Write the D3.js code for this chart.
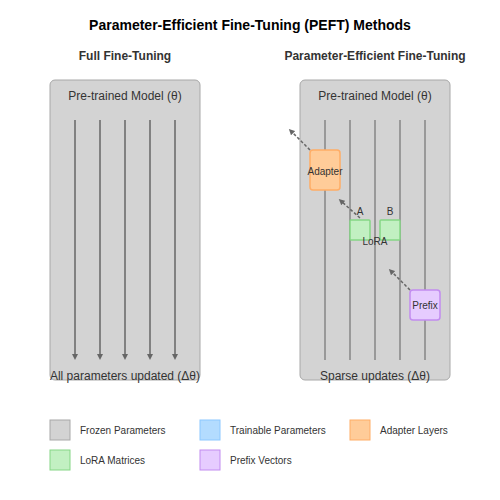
<!DOCTYPE html><html><head><meta charset="utf-8"><script src="https://cdn.jsdelivr.net/npm/d3@7"></script>
<style>body{margin:0}text{font-family:"Liberation Sans",Arial,sans-serif}</style></head><body><script>
const panels=[{title:"Full Fine-Tuning",x:50,top:"Pre-trained Model (θ)",bottom:"All parameters updated (Δθ)",arrows:true},
{title:"Parameter-Efficient Fine-Tuning",x:300,top:"Pre-trained Model (θ)",bottom:"Sparse updates (Δθ)",arrows:false}];
const layers=[0,1,2,3,4];
const legendLabels=["Frozen Parameters","Trainable Parameters","Adapter Layers","LoRA Matrices","Prefix Vectors"];
const legendFill=["#d3d3d3","#b3dcff","#ffcc99","#c2f0c2","#e6ccff"];
const legendStroke=["#a8a8a8","#8cc8ff","#ffad66","#85d685","#c28cf0"];
const svg=d3.select("body").append("svg").attr("width",500).attr("height",500);
svg.append("defs").append("marker").attr("id","ah").attr("viewBox","0 0 10 10").attr("refX",5).attr("refY",5)
 .attr("markerWidth",4).attr("markerHeight",4).attr("orient","auto").append("path").attr("d","M0,0L10,5L0,10z").attr("fill","#666");
svg.append("text").attr("x",250).attr("y",30).attr("text-anchor","middle").attr("font-size",14).attr("font-weight","bold").text("Parameter-Efficient Fine-Tuning (PEFT) Methods");
panels.forEach(p=>{
 const g=svg.append("g");
 g.append("text").attr("x",p.x+75).attr("y",60).attr("text-anchor","middle").attr("font-size",12).attr("font-weight","bold").attr("fill","#333").text(p.title);
 g.append("rect").attr("x",p.x).attr("y",80).attr("width",150).attr("height",300).attr("rx",5).attr("fill","#d3d3d3").attr("stroke","#a8a8a8");
 g.append("text").attr("x",p.x+75).attr("y",100).attr("text-anchor","middle").attr("font-size",12).attr("fill","#333").text(p.top);
 const xs=d3.scaleLinear().domain([0,4]).range([p.x+25,p.x+125]);
 layers.forEach(l=>{g.append("line").attr("x1",xs(l)).attr("x2",xs(l)).attr("y1",120).attr("y2",p.arrows?357:360)
  .attr("stroke",p.arrows?"#666":"#999").attr("stroke-width",p.arrows?1.5:2).attr("marker-end",p.arrows?"url(#ah)":null);});
 g.append("text").attr("x",p.x+75).attr("y",380).attr("text-anchor","middle").attr("font-size",12).attr("fill","#333").text(p.bottom);
});
function box(x,y,w,h,i,label){svg.append("rect").attr("x",x).attr("y",y).attr("width",w).attr("height",h).attr("rx",i==3?1:3).attr("fill",legendFill[i]).attr("stroke",legendStroke[i]).attr("stroke-width",1.5);}
function arrow(x1,y1,x2,y2){svg.append("line").attr("x1",x1).attr("y1",y1).attr("x2",x2).attr("y2",y2).attr("stroke","#666").attr("stroke-width",1.5).attr("stroke-dasharray","3,2").attr("marker-end","url(#ah)");}
function txt(x,y,t){svg.append("text").attr("x",x).attr("y",y).attr("text-anchor","middle").attr("font-size",10).attr("fill","#333").text(t);}
box(310,150,30,40,2);txt(325,175,"Adapter");arrow(310,150,291,131);
box(350,220,20,20,3);box(380,220,20,20,3);txt(360,215,"A");txt(390,215,"B");txt(375,245,"LoRA");arrow(360,218,341,201);
box(410,290,30,30,4);txt(425,309,"Prefix");arrow(410,290,391,271);
legendLabels.forEach((t,i)=>{const x=50+150*(i%3),y=420+30*Math.floor(i/3);
 svg.append("rect").attr("x",x).attr("y",y).attr("width",20).attr("height",20).attr("fill",legendFill[i]).attr("stroke",legendStroke[i]);
 svg.append("text").attr("x",x+30).attr("y",y+14).attr("font-size",10).attr("fill","#333").text(t);});
</script></body></html>
